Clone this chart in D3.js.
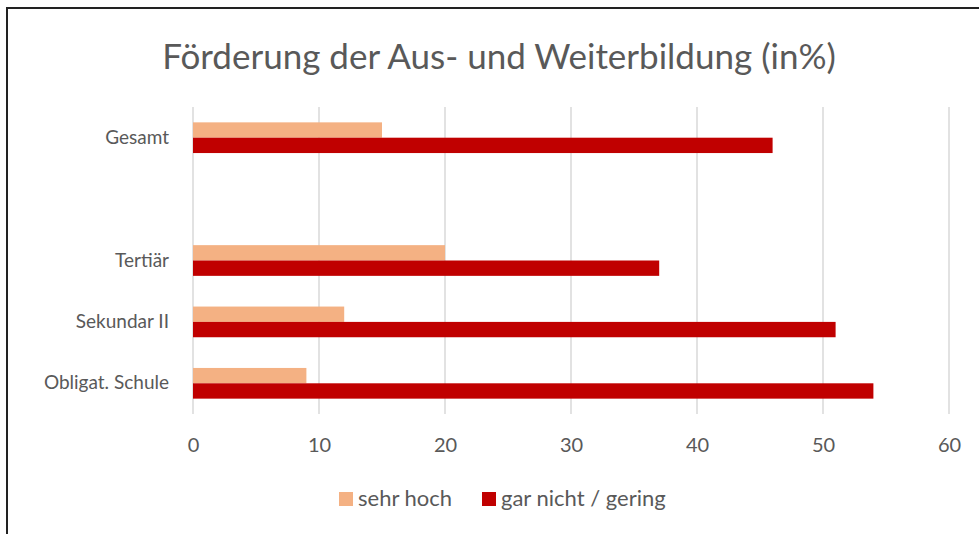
<!DOCTYPE html>
<html>
<head>
<meta charset="utf-8">
<script src="https://cdn.jsdelivr.net/npm/d3@7"></script>
<style>
  body { margin: 0; background: #fff; }
  text { font-family: Lato, "Open Sans", sans-serif; fill: #595959; }
</style>
</head>
<body>
<div id="chart"></div>
<script>
// data
var categories = ["Gesamt", "", "Tertiär", "Sekundar II", "Obligat. Schule"];
var seriesNames = ["sehr hoch", "gar nicht / gering"];
var sehrHoch = [15, null, 20, 12, 9];
var garNicht = [46, null, 37, 51, 54];
var xTicks = [0, 10, 20, 30, 40, 50, 60];
var colors = ["#F4B183", "#C00000"];

var W = 979, H = 534;
var margin = {top: 107, right: 30, bottom: 120, left: 193},
    width = 949 - margin.left,
    height = 414 - margin.top;

var svg = d3.select("#chart")
  .append("svg")
    .attr("width", W)
    .attr("height", H);

// chart border (runs off the right/bottom edge)
svg.append("rect")
  .attr("x", 7).attr("y", 8)
  .attr("width", 1000).attr("height", 600)
  .attr("fill", "none")
  .attr("stroke", "#222")
  .attr("stroke-width", 2);

// title
svg.append("text")
  .attr("x", 499)
  .attr("y", 69)
  .attr("text-anchor", "middle")
  .style("font-size", "35px")
  .text("Förderung der Aus- und Weiterbildung (in%)");

var g = svg.append("g")
  .attr("transform", "translate(" + margin.left + "," + margin.top + ")");

var x = d3.scaleLinear()
  .domain([0, 60])
  .range([0, width]);

var y = d3.scaleBand()
  .domain(categories)
  .range([0, height])
  .paddingInner(0.5)
  .paddingOuter(0.25);

var ySub = d3.scaleBand()
  .domain([0, 1])
  .range([0, y.bandwidth()]);

// gridlines
g.selectAll(".grid")
  .data(xTicks)
  .enter()
  .append("line")
    .attr("x1", function(d) { return x(d); })
    .attr("x2", function(d) { return x(d); })
    .attr("y1", 0)
    .attr("y2", height)
    .attr("stroke", "#D9D9D9")
    .attr("stroke-width", 1.5);

// x axis labels
var xAxis = g.append("g")
  .attr("transform", "translate(0," + height + ")")
  .call(d3.axisBottom(x).tickValues(xTicks).tickSize(0).tickPadding(24));
xAxis.select(".domain").remove();
xAxis.selectAll("text")
  .style("font-size", "20px")
  .attr("fill", null);

// y axis labels
var yAxis = g.append("g")
  .call(d3.axisLeft(y).tickSize(0).tickPadding(24));
yAxis.select(".domain").remove();
yAxis.selectAll("text")
  .style("font-size", "19px")
  .attr("fill", null);

// bars
var series = [sehrHoch, garNicht];
series.forEach(function(vals, i) {
  g.append("g")
    .selectAll("rect")
    .data(categories.map(function(c, j) { return {cat: c, v: vals[j]}; })
      .filter(function(d) { return d.v != null; }))
    .enter()
    .append("rect")
      .attr("x", x(0))
      .attr("y", function(d) { return y(d.cat) + ySub(i); })
      .attr("width", function(d) { return x(d.v) - x(0); })
      .attr("height", ySub.bandwidth())
      .attr("fill", colors[i]);
});

// legend
var legend = svg.append("g")
  .attr("transform", "translate(339,492)");
var legX = [0, 143];
seriesNames.forEach(function(name, i) {
  var item = legend.append("g").attr("transform", "translate(" + legX[i] + ",0)");
  item.append("rect")
    .attr("width", 14).attr("height", 14)
    .attr("fill", colors[i]);
  item.append("text")
    .attr("x", 19)
    .attr("y", 14)
    .style("font-size", "22px")
    .text(name);
});
</script>
</body>
</html>
